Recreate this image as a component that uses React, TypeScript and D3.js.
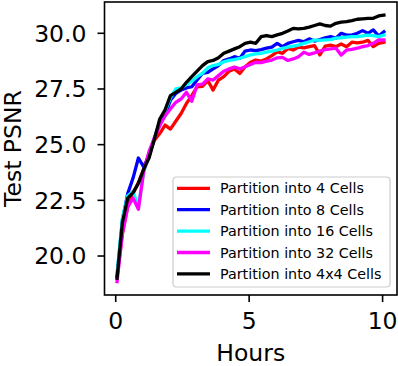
import * as d3 from 'd3'

// hours of each evaluation
const HOURS = [
  0.05, 0.25, 0.45, 0.65, 0.85, 1.05, 1.25, 1.45, 1.65, 1.85,
  2.05, 2.25, 2.45, 2.65, 2.85, 3.05, 3.25, 3.45, 3.65, 3.85,
  4.05, 4.25, 4.45, 4.65, 4.85, 5.05, 5.25, 5.45, 5.65, 5.85,
  6.05, 6.25, 6.45, 6.65, 6.85, 7.05, 7.25, 7.45, 7.65, 7.85,
  8.05, 8.25, 8.45, 8.65, 8.85, 9.05, 9.25, 9.45, 9.65, 9.85, 10.05,
]

const PSNR_4 = [
  19.1, 21.0, 22.2, 22.8, 23.3, 23.9, 24.6, 25.2, 25.5, 25.88,
  25.7, 26.05, 26.4, 26.85, 27.2, 27.6, 27.62, 27.88, 27.45, 27.9,
  28.05, 28.3, 28.4, 28.2, 28.5, 28.7, 28.8, 28.75, 28.85, 29.0,
  29.17, 29.1, 29.32, 29.25, 29.38, 29.35, 29.4, 29.45, 29.03, 29.42,
  29.47, 29.4, 29.52, 29.4, 29.6, 29.57, 29.6, 29.68, 29.4, 29.55, 29.6,
]

const PSNR_8 = [
  19.1, 21.6, 22.8, 23.5, 24.4, 24.0, 24.5, 25.3, 26.0, 26.3,
  27.0, 27.3, 27.45, 27.55, 27.6, 27.9, 28.2, 28.25, 28.4, 28.55,
  28.78, 28.85, 28.95, 28.88, 29.2, 29.25, 29.22, 29.27, 29.33, 29.38,
  29.55, 29.4, 29.55, 29.62, 29.68, 29.62, 29.75, 29.65, 29.72, 29.8,
  29.85, 29.78, 30.0, 29.92, 29.92, 30.0, 30.12, 30.0, 30.15, 29.88, 30.07,
]

const PSNR_16 = [
  19.2, 21.7, 22.7, 22.9, 22.2, 23.8, 24.5, 25.3, 26.0, 26.5,
  27.1, 27.5, 27.55, 27.7, 27.85, 28.05, 28.2, 28.45, 28.55, 28.6,
  28.72, 28.78, 28.82, 28.88, 28.95, 29.03, 29.08, 29.1, 29.15, 29.2,
  29.25, 29.32, 29.38, 29.42, 29.47, 29.55, 29.62, 29.7, 29.68, 29.7,
  29.72, 29.78, 29.8, 29.83, 29.85, 29.85, 29.88, 29.92, 29.9, 29.85, 29.92,
]

const PSNR_32 = [
  18.85, 21.0, 22.2, 22.6, 22.1, 23.8, 24.7, 25.3, 25.85, 26.3,
  26.6, 26.9, 27.05, 27.35, 26.95, 27.68, 27.72, 27.95, 27.9, 28.1,
  28.3, 28.4, 28.48, 28.4, 28.5, 28.6, 28.7, 28.68, 28.75, 28.8,
  28.9, 28.92, 28.78, 28.85, 28.95, 29.15, 29.05, 29.12, 29.2, 29.27,
  29.3, 29.33, 29.02, 29.25, 29.28, 29.33, 29.4, 29.45, 29.55, 29.7, 29.7,
]

const PSNR_4X4 = [
  19.0, 21.5, 22.6, 22.85, 23.26, 23.9, 24.4, 25.25, 26.15, 26.56,
  27.2, 27.35, 27.5, 27.8, 28.05, 28.3, 28.55, 28.73, 28.78, 28.9,
  29.1, 29.2, 29.3, 29.4, 29.55, 29.6, 29.55, 29.85, 29.9, 29.85,
  29.93, 30.0, 30.1, 30.22, 30.2, 30.22, 30.28, 30.35, 30.42, 30.35,
  30.32, 30.45, 30.5, 30.52, 30.57, 30.63, 30.65, 30.67, 30.67, 30.78, 30.82,
]

const SERIES_LABELS = [
  'Partition into 4 Cells',
  'Partition into 8 Cells',
  'Partition into 16 Cells',
  'Partition into 32 Cells',
  'Partition into 4x4 Cells',
]
const SERIES_VALUES = [PSNR_4, PSNR_8, PSNR_16, PSNR_32, PSNR_4X4]
const COLORS = ['#ff0000', '#0000ff', '#00ffff', '#ff00ff', '#000000']

const X_TICKS = [0, 5, 10]
const Y_TICKS = [20.0, 22.5, 25.0, 27.5, 30.0]

const W = 398
const H = 366
const FONT = 'DejaVu Sans, sans-serif'

export default function App() {
  const left = 104.5
  const right = 397
  const top = 2
  const bottom = 295

  const x = d3.scaleLinear().domain([-0.42, 10.54]).range([left, right])
  const y = d3.scaleLinear().domain([18.25, 31.405]).range([bottom, top])

  const line = d3.line<number>()
    .x((_, i) => x(HOURS[i]))
    .y((d) => y(d))

  // legend layout
  const lgX = 173
  const lgY = 177
  const lgW = 217
  const lgH = 110
  const rowH = 21.4

  return (
    <svg width={W} height={H} style={{ position: 'absolute', left: 0, top: 0 }} fontFamily={FONT}>
      <rect width={W} height={H} fill="#fff" />
      <defs>
        <clipPath id="plot">
          <rect x={left} y={top} width={right - left} height={bottom - top} />
        </clipPath>
      </defs>

      <g clipPath="url(#plot)">
        {SERIES_VALUES.map((vals, i) => (
          <path key={i} d={line(vals) || ''} fill="none" stroke={COLORS[i]}
            strokeWidth={3.3} strokeLinejoin="round" strokeLinecap="square" />
        ))}
      </g>

      {/* frame */}
      <rect x={left} y={top} width={right - left} height={bottom - top}
        fill="none" stroke="#000" strokeWidth={1.6} />

      {/* x ticks */}
      {X_TICKS.map((t) => (
        <g key={t}>
          <line x1={x(t)} x2={x(t)} y1={bottom} y2={bottom + 7} stroke="#000" strokeWidth={1.6} />
          <text x={x(t)} y={329} textAnchor="middle" fontSize={23.5}>{t}</text>
        </g>
      ))}

      {/* y ticks */}
      {Y_TICKS.map((t) => (
        <g key={t}>
          <line x1={left - 7} x2={left} y1={y(t)} y2={y(t)} stroke="#000" strokeWidth={1.6} />
          <text x={86.5} y={y(t)} dy="0.36em" textAnchor="end" fontSize={23.5}>{t.toFixed(1)}</text>
        </g>
      ))}

      <text x={(left + right) / 2} y={361} textAnchor="middle" fontSize={23.5}>Hours</text>
      <text transform={`translate(20.5,${(top + bottom) / 2}) rotate(-90)`} textAnchor="middle" fontSize={23.5}>Test PSNR</text>

      {/* legend */}
      <rect x={lgX} y={lgY} width={lgW} height={lgH} rx={3.5}
        fill="#fff" fillOpacity={0.8} stroke="#cccccc" strokeWidth={1.2} />
      {SERIES_LABELS.map((lab, i) => {
        const cy = lgY + 11.3 + i * rowH
        return (
          <g key={lab}>
            <line x1={lgX + 4} x2={lgX + 37} y1={cy} y2={cy} stroke={COLORS[i]} strokeWidth={3.3} />
            <text x={lgX + 47} y={cy} dy="0.36em" fontSize={14.3}>{lab}</text>
          </g>
        )
      })}
    </svg>
  )
}
